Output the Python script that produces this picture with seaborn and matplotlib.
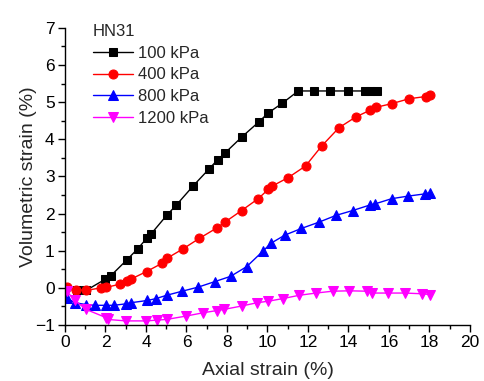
import pandas as pd
import matplotlib.pyplot as plt
import seaborn as sns
from matplotlib.ticker import MultipleLocator

# Axial strain (%) / volumetric strain (%)
x_100 = [0.6, 1.04, 1.98, 2.27, 3.05, 3.59, 4.03, 4.25, 5.02, 5.5, 6.34, 7.13, 7.54, 7.92,
         8.75, 9.58, 10.04, 10.73, 11.52, 12.3, 13.1, 13.99, 14.81, 15.06, 15.39]
y_100 = [-0.07, -0.07, 0.23, 0.33, 0.75, 1.05, 1.33, 1.45, 1.95, 2.23, 2.75, 3.21, 3.45, 3.64,
         4.07, 4.47, 4.71, 4.97, 5.3, 5.3, 5.3, 5.3, 5.3, 5.3, 5.3]

x_400 = [0.08, 0.54, 1.04, 1.78, 2.02, 2.72, 3.05, 3.24, 4.03, 4.79, 5.02, 5.83, 6.63, 7.49,
         7.9, 8.72, 9.54, 10.04, 10.2, 11.03, 11.88, 12.68, 13.53, 14.36, 15.06, 15.36,
         16.15, 16.99, 17.81, 18.02]
y_400 = [0.02, -0.05, -0.07, 0.0, 0.01, 0.1, 0.19, 0.23, 0.44, 0.66, 0.79, 1.05, 1.33, 1.61,
         1.77, 2.08, 2.4, 2.65, 2.73, 2.97, 3.28, 3.82, 4.31, 4.6, 4.78, 4.86,
         4.96, 5.09, 5.15, 5.18]

x_800 = [0.08, 0.49, 1.04, 1.48, 2.02, 2.42, 3.01, 3.26, 4.07, 4.49, 5.02, 5.79, 6.58, 7.41,
         8.18, 8.97, 9.76, 10.17, 10.86, 11.68, 12.55, 13.38, 14.2, 15.06, 15.31, 16.13,
         16.95, 17.78, 18.02]
y_800 = [-0.27, -0.4, -0.45, -0.47, -0.47, -0.47, -0.43, -0.4, -0.34, -0.29, -0.2, -0.09, 0.02, 0.17,
         0.31, 0.57, 0.98, 1.2, 1.42, 1.6, 1.77, 1.95, 2.08, 2.23, 2.26, 2.4,
         2.47, 2.53, 2.56]

x_1200 = [0.08, 0.49, 1.04, 2.02, 2.1, 3.01, 4.0, 4.52, 5.02, 5.98, 6.83, 7.52, 7.85, 8.72,
          9.49, 10.04, 10.75, 11.57, 12.4, 13.22, 14.04, 14.9, 15.14, 15.97, 16.79, 17.65, 18.02]
y_1200 = [-0.09, -0.34, -0.58, -0.8, -0.85, -0.89, -0.89, -0.87, -0.85, -0.76, -0.67, -0.61, -0.58, -0.49,
          -0.4, -0.36, -0.29, -0.2, -0.14, -0.09, -0.08, -0.09, -0.14, -0.14, -0.14, -0.16, -0.18]

series = [
    ('100 kPa', x_100, y_100, 'black', 's', 5.5),
    ('400 kPa', x_400, y_400, 'red', 'o', 6.5),
    ('800 kPa', x_800, y_800, 'blue', '^', 7),
    ('1200 kPa', x_1200, y_1200, 'magenta', 'v', 7),
]

sns.set_style('ticks')
plt.rcParams['font.family'] = ['Liberation Sans', 'DejaVu Sans']

fig = plt.figure(figsize=(4.85, 3.81), dpi=100)
ax = fig.add_axes([0.134, 0.147, 0.835, 0.78])

for label, xs, ys, color, marker, ms in series:
    df = pd.DataFrame({'x': xs, 'y': ys})
    sns.lineplot(data=df, x='x', y='y', ax=ax, color=color, marker=marker, markersize=ms,
                 markeredgecolor=color, linewidth=1, sort=False, label=label)

ax.set_xlim(0, 20)
ax.set_ylim(-1, 7)
ax.xaxis.set_major_locator(MultipleLocator(2))
ax.xaxis.set_minor_locator(MultipleLocator(1))
ax.yaxis.set_major_locator(MultipleLocator(1))
ax.yaxis.set_minor_locator(MultipleLocator(0.5))
ax.tick_params(which='major', length=5, width=1, labelsize=12.5, direction='out', colors='black', pad=2.5)
ax.tick_params(which='minor', length=3, width=1, direction='out', colors='black')
for s in ['left', 'bottom']:
    ax.spines[s].set_color('black')
    ax.spines[s].set_linewidth(1)
sns.despine(ax=ax)

ax.set_xlabel('Axial strain (%)', fontsize=14, labelpad=8)
ax.set_ylabel('Volumetric strain (%)', fontsize=14, labelpad=-2)

leg = ax.legend(title='HN31', loc='upper left', bbox_to_anchor=(0.052, 1.035), frameon=False,
                fontsize=12, title_fontsize=12, alignment='left', handlelength=2.4,
                labelspacing=0.4, borderaxespad=0, handletextpad=0.3)

plt.savefig('out.png', dpi=100)
plt.close()
